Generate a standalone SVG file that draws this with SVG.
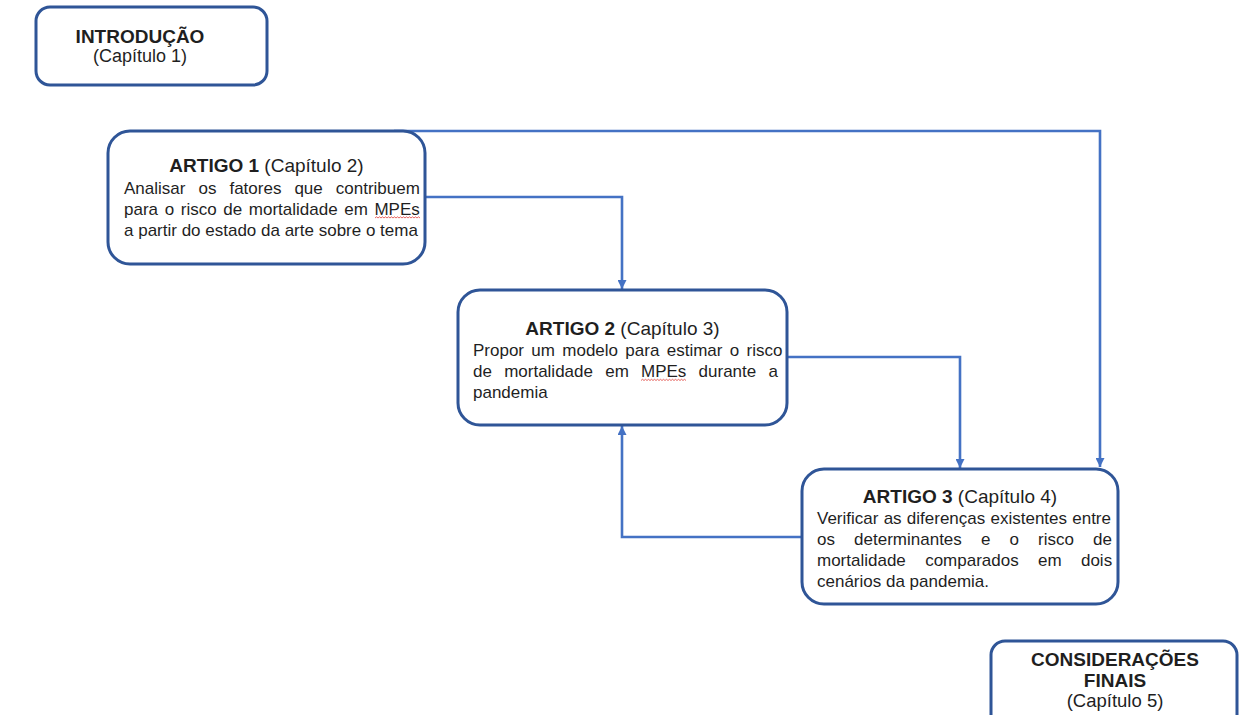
<svg xmlns="http://www.w3.org/2000/svg" width="1249" height="715" viewBox="0 0 1249 715">
<style>
.box{fill:#fff;stroke:#2F5597;stroke-width:3}
.conn{fill:none;stroke:#4472C4;stroke-width:2.6}
.t{font-family:"Liberation Sans",Arial,sans-serif;fill:#1f1f1f}
.b{font-weight:bold}
.body{font-size:17px}
.ttl{font-size:19px}
.sq{fill:none;stroke:#e0403a;stroke-width:0.8}
</style>
<defs>
<marker id="ah" viewBox="0 0 10 10" refX="10" refY="5" markerWidth="9" markerHeight="9" markerUnits="userSpaceOnUse" orient="auto">
<path d="M0,0 L10,5 L0,10 z" fill="#4472C4"/>
</marker>
</defs>
<g id="connectors">
<path class="conn" d="M394 131 H1100 V467" marker-end="url(#ah)"/>
<path class="conn" d="M425 197 H622 V289" marker-end="url(#ah)"/>
<path class="conn" d="M787 357 H960 V468" marker-end="url(#ah)"/>
<path class="conn" d="M802 537 H622 V426" marker-end="url(#ah)"/>
</g>
<g id="introducao">
<rect class="box" x="36" y="7" width="231" height="78" rx="14"/>
<text class="t b" x="140" y="43" font-size="19" text-anchor="middle">INTRODUÇÃO</text>
<text class="t" x="140" y="62" font-size="18" text-anchor="middle">(Capítulo 1)</text>
</g>
<g id="artigo1">
<rect class="box" x="108" y="131" width="317" height="133" rx="22"/>
<text class="t ttl" x="266.5" y="172" text-anchor="middle"><tspan class="b">ARTIGO 1</tspan> (Capítulo 2)</text>
<text class="t body" x="124" y="193.5" word-spacing="8.3">Analisar os fatores que contribuem</text>
<text class="t body" x="124" y="214.5" word-spacing="1.9">para o risco de mortalidade em MPEs</text>
<text class="t body" x="124" y="235.5">a partir do estado da arte sobre o tema</text>
<path class="sq" d="M375 218 l1.5 -1.2 l1.5 1.2 l1.5 -1.2 l1.5 1.2 l1.5 -1.2 l1.5 1.2 l1.5 -1.2 l1.5 1.2 l1.5 -1.2 l1.5 1.2 l1.5 -1.2 l1.5 1.2 l1.5 -1.2 l1.5 1.2 l1.5 -1.2 l1.5 1.2 l1.5 -1.2 l1.5 1.2 l1.5 -1.2 l1.5 1.2 l1.5 -1.2 l1.5 1.2 l1.5 -1.2 l1.5 1.2 l1.5 -1.2 l1.5 1.2 l1.5 -1.2 l1.5 1.2 l1.5 -1.2 l1.5 1.2"/>
</g>
<g id="artigo2">
<rect class="box" x="458" y="290" width="329" height="135" rx="22"/>
<text class="t ttl" x="622.5" y="335" text-anchor="middle"><tspan class="b">ARTIGO 2</tspan> (Capítulo 3)</text>
<text class="t body" x="473" y="356" word-spacing="2.6">Propor um modelo para estimar o risco</text>
<text class="t body" x="473" y="377" word-spacing="7.5">de mortalidade em MPEs durante a</text>
<text class="t body" x="473" y="398">pandemia</text>
<path class="sq" d="M641 380.5 l1.5 -1.2 l1.5 1.2 l1.5 -1.2 l1.5 1.2 l1.5 -1.2 l1.5 1.2 l1.5 -1.2 l1.5 1.2 l1.5 -1.2 l1.5 1.2 l1.5 -1.2 l1.5 1.2 l1.5 -1.2 l1.5 1.2 l1.5 -1.2 l1.5 1.2 l1.5 -1.2 l1.5 1.2 l1.5 -1.2 l1.5 1.2 l1.5 -1.2 l1.5 1.2 l1.5 -1.2 l1.5 1.2 l1.5 -1.2 l1.5 1.2 l1.5 -1.2 l1.5 1.2 l1.5 -1.2 l1.5 1.2"/>
</g>
<g id="artigo3">
<rect class="box" x="802" y="469" width="316" height="135" rx="22"/>
<text class="t ttl" x="960" y="503" text-anchor="middle"><tspan class="b">ARTIGO 3</tspan> (Capítulo 4)</text>
<text class="t body" x="817" y="524" word-spacing="0.5">Verificar as diferenças existentes entre</text>
<text class="t body" x="817" y="545" word-spacing="14.4">os determinantes e o risco de</text>
<text class="t body" x="817" y="566" word-spacing="14.6">mortalidade comparados em dois</text>
<text class="t body" x="817" y="587">cenários da pandemia.</text>
</g>
<g id="consideracoes">
<rect class="box" x="991" y="641" width="246" height="90" rx="14"/>
<text class="t b" x="1115" y="666" font-size="19" text-anchor="middle">CONSIDERAÇÕES</text>
<text class="t b" x="1115" y="687" font-size="19" text-anchor="middle">FINAIS</text>
<text class="t" x="1115" y="707" font-size="18.5" text-anchor="middle">(Capítulo 5)</text>
</g>
</svg>
